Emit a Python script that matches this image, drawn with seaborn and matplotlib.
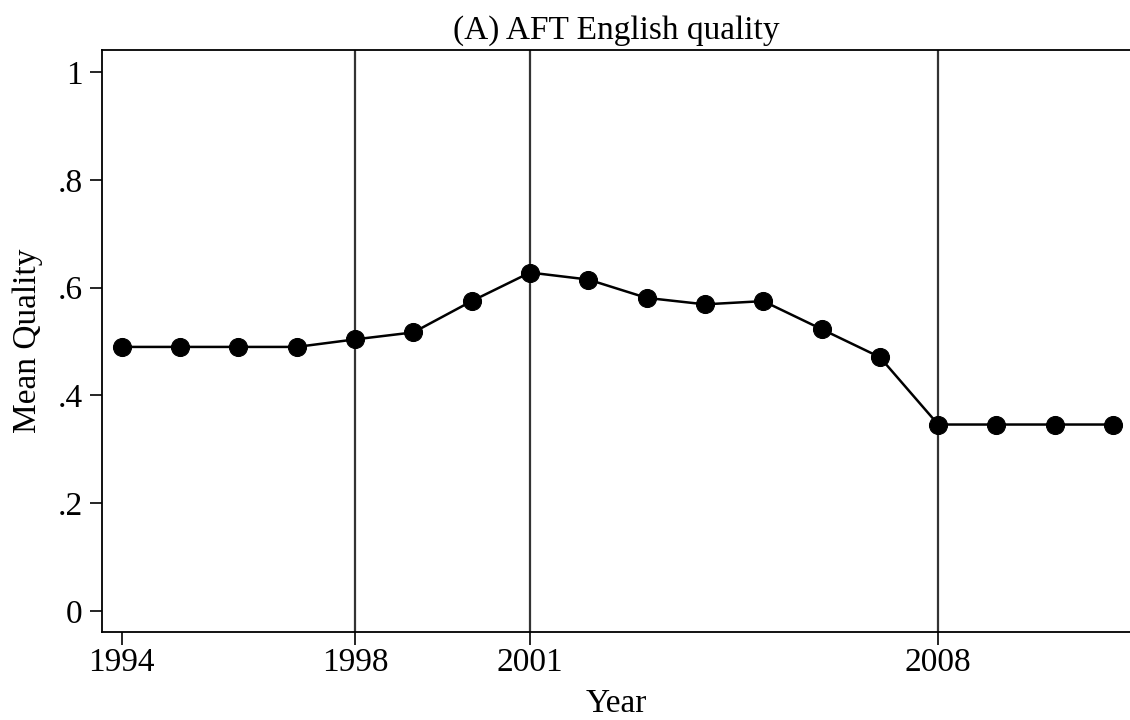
import pandas as pd
import matplotlib
matplotlib.use("Agg")
import matplotlib.pyplot as plt
import seaborn as sns

# Mean AFT English quality by year
years = list(range(1994, 2012))
quality = [0.490, 0.490, 0.490, 0.490, 0.504, 0.517, 0.575, 0.628, 0.615,
           0.581, 0.569, 0.575, 0.523, 0.471, 0.346, 0.346, 0.346, 0.346]
event_years = [1998, 2001, 2008]
x_ticks = [1994, 1998, 2001, 2008]
y_ticks = [0, 0.2, 0.4, 0.6, 0.8, 1.0]
y_tick_labels = ["0", ".2", ".4", ".6", ".8", "1"]


def main():
    sns.set_style("white")
    plt.rcParams['font.family'] = ['Liberation Serif', 'DejaVu Serif']
    plt.rcParams['font.size'] = 24
    plt.rcParams['text.color'] = 'black'
    plt.rcParams['axes.labelcolor'] = 'black'
    plt.rcParams['xtick.color'] = 'black'
    plt.rcParams['ytick.color'] = 'black'

    df = pd.DataFrame({'Year': years, 'Quality': quality})

    fig = plt.figure(figsize=(11.3, 7.2), dpi=100)
    ax = fig.add_axes([0.0903, 0.1222, 0.9097, 0.8084])

    # vertical reference lines at policy years
    for yr in event_years:
        ax.axvline(yr, color='#333333', linewidth=1.6, zorder=1)

    sns.lineplot(data=df, x='Year', y='Quality', ax=ax, color='black',
                 linewidth=1.8, marker='o', markersize=13,
                 markeredgecolor='black', zorder=3)

    ax.set_xlim(1993.66, 2011.29)
    ax.set_ylim(-0.039, 1.041)
    ax.set_xticks(x_ticks)
    ax.set_yticks(y_ticks)
    ax.set_yticklabels(y_tick_labels)
    ax.tick_params(axis='both', direction='out', length=9, width=1.2,
                   color='black', labelcolor='black', labelsize=24, pad=3,
                   bottom=True, left=True)
    ax.tick_params(axis='y', pad=5)
    ax.tick_params(axis='x', pad=2)

    for side in ['left', 'bottom', 'top']:
        ax.spines[side].set_color('black')
        ax.spines[side].set_linewidth(1.3)
    ax.spines['right'].set_visible(False)

    ax.set_title('(A) AFT English quality', fontsize=24, pad=8, color='black')
    ax.set_xlabel('Year', fontsize=24, labelpad=8)
    ax.set_ylabel('Mean Quality', fontsize=24, labelpad=10)

    fig.savefig('out.png', dpi=100)


if __name__ == "__main__":
    main()
